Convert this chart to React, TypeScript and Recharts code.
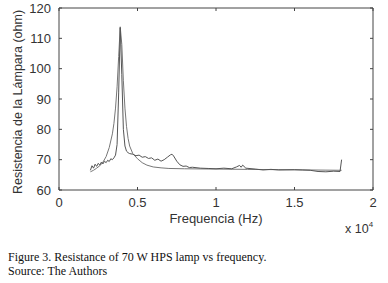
import React from "react"
import { LineChart, Line, XAxis, YAxis, Label } from "recharts"

// frequency in units of 1e4 Hz, resistance in ohm
const narrowFreq = [
  0.2, 0.21, 0.22, 0.23, 0.24, 0.25, 0.26, 0.27, 0.28, 0.29, 0.3, 0.31, 0.32, 0.33, 0.34, 0.35,
  0.36, 0.37, 0.38, 0.39, 0.4, 0.41, 0.42, 0.43, 0.44, 0.45, 0.47, 0.49, 0.51, 0.53, 0.55, 0.57,
  0.59, 0.61, 0.63, 0.65, 0.67, 0.69, 0.71, 0.72, 0.73, 0.75, 0.77, 0.79, 0.81, 0.83, 0.85, 0.9,
  0.95, 1.0, 1.05, 1.1, 1.13, 1.15, 1.16, 1.17, 1.19, 1.25, 1.3, 1.35, 1.4, 1.5, 1.55, 1.6, 1.65,
  1.7, 1.75, 1.79, 1.8,
]
const narrowOhm = [
  66.5, 68, 67.2, 68.5, 67.8, 68.8, 68.2, 69.2, 68.6, 69.5, 69.0, 69.8, 69.4, 70.3, 70.0, 70.6,
  71.5, 75, 92, 113.5, 98, 80, 74.5, 72.8, 72.3, 72, 71.8, 71.3, 71.5, 70.8, 71, 70.4,
  70.6, 69.8, 70.2, 69.5, 70, 70.8, 71.6, 71.8, 71.2, 69.5, 68.3, 67.8, 67.9, 67.4, 67.5, 67.2,
  67.1, 67.0, 67.2, 67.0, 67.6, 68.1, 67.5, 68.2, 67.2, 66.9, 66.6, 66.8, 66.6, 66.7, 66.6, 66.5, 66.1,
  66.0, 66.2, 66.1, 70.0,
]

const wideFreq = [
  0.2, 0.22, 0.24, 0.26, 0.28, 0.3, 0.32, 0.34, 0.35, 0.36, 0.37, 0.38, 0.39, 0.4, 0.41, 0.42,
  0.43, 0.44, 0.45, 0.47, 0.5, 0.53, 0.56, 0.6, 0.65, 0.7, 0.8, 1.0, 1.2, 1.4, 1.6, 1.8,
]
const wideOhm = [
  66, 66.5, 67.2, 68, 69.2, 71, 74, 78.5, 82, 87, 94, 104, 113.8, 108, 96, 87,
  81, 77, 74.5, 72, 70.3, 69, 68.2, 67.6, 67.3, 67.1, 67, 66.9, 66.8, 66.7, 66.6, 66.5,
]

const xTicks = [0, 0.5, 1, 1.5, 2]
const yTicks = [60, 70, 80, 90, 100, 110, 120]

const narrow = narrowFreq.map((f, i) => ({ f, r: narrowOhm[i] }))
const wide = wideFreq.map((f, i) => ({ f, r: wideOhm[i] }))

const W = 388
const H = 240
const margin = { top: 8, right: 15, left: 0, bottom: 0 }
const font = "Arial, 'Liberation Sans', sans-serif"
const axisColor = "#444"
const TM = 8 // gap between axis line and tick label

// bottom tick: label, inward mark at the bottom edge and matching mark on the top edge
const XTick = (p: any) => {
  const axisY = p.y - TM
  return (
    <g>
      <line x1={p.x} x2={p.x} y1={axisY} y2={axisY - 3} stroke={axisColor} />
      <line x1={p.x} x2={p.x} y1={margin.top} y2={margin.top + 3} stroke={axisColor} />
      <text x={p.x} y={p.y} dy="0.71em" textAnchor="middle" fontSize={13} fontFamily={font} fill="#333">
        {p.payload.value}
      </text>
    </g>
  )
}

// left tick: label, inward mark at the left edge and matching mark on the right edge
const YTick = (p: any) => {
  const axisX = p.x + TM
  const rightX = W - margin.right
  return (
    <g>
      <line x1={axisX} x2={axisX + 3} y1={p.y} y2={p.y} stroke={axisColor} />
      <line x1={rightX} x2={rightX - 3} y1={p.y} y2={p.y} stroke={axisColor} />
      <text x={p.x} y={p.y} dy="0.355em" textAnchor="end" fontSize={13} fontFamily={font} fill="#333">
        {p.payload.value}
      </text>
    </g>
  )
}

export default function App() {
  return (
    <div style={{ position: "absolute", left: 0, top: 0, width: W, height: 283, background: "#fff" }}>
      <LineChart width={W} height={H} margin={margin}>
        <XAxis
          dataKey="f"
          type="number"
          domain={[0, 2]}
          ticks={xTicks}
          interval={0}
          tickLine={false}
          tickSize={0}
          tickMargin={TM}
          height={50}
          stroke={axisColor}
          tick={XTick}
        >
          <Label
            content={() => (
              <g fontFamily={font} fill="#333">
                <text x={216} y={223} textAnchor="middle" fontSize={13}>
                  Frequencia (Hz)
                </text>
                <text x={345} y={233} fontSize={12.5}>
                  x 10<tspan dy={-6} fontSize={8}>4</tspan>
                </text>
              </g>
            )}
          />
        </XAxis>
        <XAxis xAxisId="tp" orientation="top" type="number" domain={[0, 2]} mirror tick={false} tickLine={false} stroke={axisColor} />
        <YAxis
          type="number"
          domain={[60, 120]}
          ticks={yTicks}
          interval={0}
          tickLine={false}
          tickSize={0}
          tickMargin={TM}
          width={59}
          stroke={axisColor}
          tick={YTick}
        >
          <Label
            content={() => (
              <text
                x={22}
                y={102}
                transform="rotate(-90 22 102)"
                textAnchor="middle"
                fontSize={12.5}
                fontFamily={font}
                fill="#333"
              >
                Resistencia de la Lámpara (ohm)
              </text>
            )}
          />
        </YAxis>
        <YAxis yAxisId="rt" orientation="right" type="number" domain={[60, 120]} mirror tick={false} tickLine={false} stroke={axisColor} />
        <Line data={wide} dataKey="r" type="linear" stroke="#777" strokeWidth={1} dot={false} isAnimationActive={false} />
        <Line data={narrow} dataKey="r" type="linear" stroke="#555" strokeWidth={1} dot={false} isAnimationActive={false} />
      </LineChart>
      <div
        style={{
          position: "absolute",
          left: 8,
          top: 250,
          fontFamily: "'Liberation Serif', 'Times New Roman', serif",
          fontSize: 12,
          lineHeight: "14px",
          color: "#111",
        }}
      >
        Figure 3. Resistance of 70 W HPS lamp vs frequency.
        <br />
        Source: The Authors
      </div>
    </div>
  )
}
